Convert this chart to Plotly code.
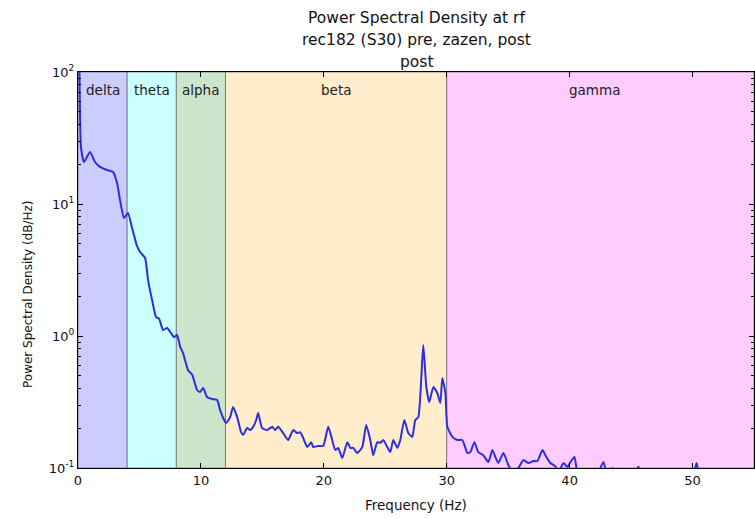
import plotly.graph_objects as go

# Frequency (Hz) and power spectral density values
freq = [0.0, 0.1, 0.24, 0.49, 0.98, 1.38, 1.79, 2.36, 2.85, 3.18, 3.42, 3.75, 4.07, 4.40, 4.80,
        5.05, 5.46, 5.70, 6.03, 6.35, 6.60, 6.92, 7.25, 7.57, 7.82, 8.06, 8.31, 8.55, 8.96, 9.28,
        9.69, 9.93, 10.18, 10.50, 10.91, 11.32, 11.56, 11.81, 12.05, 12.38, 12.62, 12.95, 13.27,
        13.44, 13.76, 14.01, 14.25, 14.50, 14.66, 14.98, 15.39, 15.80, 16.04, 16.29, 16.69, 17.10,
        17.51, 17.83, 18.08, 18.32, 18.65, 18.97, 19.14, 19.54, 19.95, 20.36, 20.68, 20.93, 21.17,
        21.50, 21.91, 22.15, 22.39, 22.72, 23.13, 23.45, 23.78, 24.02, 24.35, 24.59, 24.84, 25.16,
        25.41, 25.65, 25.98, 26.22, 26.55, 26.87, 27.20, 27.44, 27.69, 28.09, 28.34, 28.58, 28.91,
        29.23, 29.48, 29.64, 29.89, 30.05, 30.46, 30.86, 31.27, 31.68, 31.92, 32.25, 32.57, 32.98,
        33.39, 33.71, 33.96, 34.20, 34.61, 35.02, 35.34, 35.83, 36.24, 36.64, 37.05, 37.38, 37.79,
        38.03, 38.44, 38.84, 39.09, 39.50, 39.82, 40.07, 40.39, 40.64, 41.29, 42.10, 42.75, 43.08,
        43.49, 43.81, 44.54, 45.11, 45.60, 46.01, 46.99, 48.21, 49.43, 50.00, 50.33, 50.65, 51.63,
        52.69, 53.91, 55.13]
psd = [200, 120, 27.0, 20.8, 24.8, 20.8, 19.1, 18.1, 17.5, 14.4, 10.7, 7.83, 8.55, 6.58, 4.81,
       4.33, 3.90, 2.65, 1.87, 1.39, 1.35, 1.11, 1.15, 1.05, 0.98, 1.02, 0.83, 0.74, 0.55, 0.51,
       0.39, 0.377, 0.404, 0.345, 0.333, 0.327, 0.275, 0.239, 0.219, 0.243, 0.290, 0.243, 0.187,
       0.178, 0.201, 0.194, 0.205, 0.231, 0.261, 0.201, 0.194, 0.205, 0.194, 0.205, 0.184, 0.163,
       0.194, 0.184, 0.187, 0.169, 0.144, 0.157, 0.144, 0.147, 0.147, 0.205, 0.163, 0.137, 0.142,
       0.119, 0.157, 0.142, 0.142, 0.130, 0.144, 0.212, 0.163, 0.125, 0.157, 0.155, 0.163, 0.144,
       0.132, 0.163, 0.142, 0.163, 0.231, 0.184, 0.172, 0.231, 0.243, 0.855, 0.411, 0.316, 0.411,
       0.370, 0.311, 0.481, 0.370, 0.205, 0.172, 0.163, 0.163, 0.130, 0.132, 0.157, 0.132, 0.125,
       0.111, 0.137, 0.121, 0.109, 0.130, 0.105, 0.093, 0.100, 0.115, 0.109, 0.113, 0.113, 0.137,
       0.125, 0.109, 0.103, 0.093, 0.109, 0.102, 0.111, 0.121, 0.093, 0.081, 0.084, 0.111, 0.084,
       0.100, 0.081, 0.074, 0.084, 0.102, 0.081, 0.074, 0.081, 0.076, 0.084, 0.109, 0.081, 0.074,
       0.078, 0.073, 0.076]

band_names = ["delta", "theta", "alpha", "beta", "gamma"]
band_start = [0, 4, 8, 12, 30]
band_end = [4, 8, 12, 30, 55]
band_label_x = [2, 6, 10, 21, 42]
band_colors = ["rgb(204,204,255)", "rgb(204,255,255)", "rgb(204,230,204)",
               "rgb(255,237,204)", "rgb(255,204,255)"]

x_ticks = [0, 10, 20, 30, 40, 50]
y_ticks = [0.1, 1, 10, 100]
y_tick_text = ["10<sup>-1</sup>", "10<sup>0</sup>", "10<sup>1</sup>", "10<sup>2</sup>"]
y_minor_ticks = [0.2, 0.3, 0.4, 0.5, 0.6, 0.7, 0.8, 0.9,
                 2, 3, 4, 5, 6, 7, 8, 9,
                 20, 30, 40, 50, 60, 70, 80, 90]

FONT = "DejaVu Sans"

fig = go.Figure()
fig.add_trace(go.Scatter(x=freq, y=psd, mode="lines",
                         line=dict(color="rgb(45,45,225)", width=2, shape="spline", smoothing=0.5),
                         showlegend=False, hoverinfo="skip"))

shapes = []
for s, e, c in zip(band_start, band_end, band_colors):
    shapes.append(dict(type="rect", xref="x", yref="paper", x0=s, x1=e, y0=0, y1=1,
                       fillcolor=c, line=dict(color="rgba(80,80,80,0.6)", width=1), layer="below"))
annotations = []
for name, lx in zip(band_names, band_label_x):
    annotations.append(dict(x=lx, y=0.9545, xref="x", yref="paper", text=name, showarrow=False,
                            font=dict(family=FONT, size=13.5, color="#222"),
                            xanchor="center", yanchor="middle"))
title_lines = ["Power Spectral Density at rf", "rec182 (S30) pre, zazen, post", "post"]
title_y = [1.136, 1.0809, 1.0253]
for t, ty in zip(title_lines, title_y):
    annotations.append(dict(x=0.5, y=ty, xref="paper", yref="paper", text=t, showarrow=False,
                            font=dict(family=FONT, size=15.5, color="#111"),
                            xanchor="center", yanchor="middle"))
annotations.append(dict(x=0.5, y=(468 - 505) / 396, xref="paper", yref="paper",
                        text="Frequency (Hz)", showarrow=False,
                        font=dict(family=FONT, size=13.5, color="#111"),
                        xanchor="center", yanchor="middle"))
annotations.append(dict(x=(28 - 78) / 676, y=(468 - 295) / 396, xref="paper", yref="paper",
                        text="Power Spectral Density (dB/Hz)", showarrow=False, textangle=-90,
                        font=dict(family=FONT, size=12, color="#111"),
                        xanchor="center", yanchor="middle"))

fig.update_layout(
    width=755, height=519,
    margin=dict(l=78, r=1, t=72, b=51, autoexpand=False),
    paper_bgcolor="white", plot_bgcolor="white",
    shapes=shapes, annotations=annotations,
    font=dict(family=FONT, size=13, color="#111"),
)
fig.update_xaxes(range=[0, 55], tickvals=x_ticks, ticks="inside", ticklen=5, tickcolor="black",
                 showline=True, linecolor="black", linewidth=1.2, mirror="ticks", automargin=False,
                 showgrid=False, zeroline=False, tickfont=dict(family=FONT, size=13))
fig.update_yaxes(type="log", range=[-1, 2], tickvals=y_ticks, ticktext=y_tick_text,
                 ticks="inside", ticklen=5, tickcolor="black", automargin=False,
                 showline=True, linecolor="black", linewidth=1.2, mirror="ticks",
                 showgrid=False, zeroline=False, tickfont=dict(family=FONT, size=13),
                 minor=dict(ticks="inside", ticklen=3, tickcolor="black", showgrid=False,
                            tickvals=y_minor_ticks))

fig.write_html("out.html", config={"displayModeBar": False},
               post_script="document.body.style.margin='0';document.body.style.overflow='hidden';")
